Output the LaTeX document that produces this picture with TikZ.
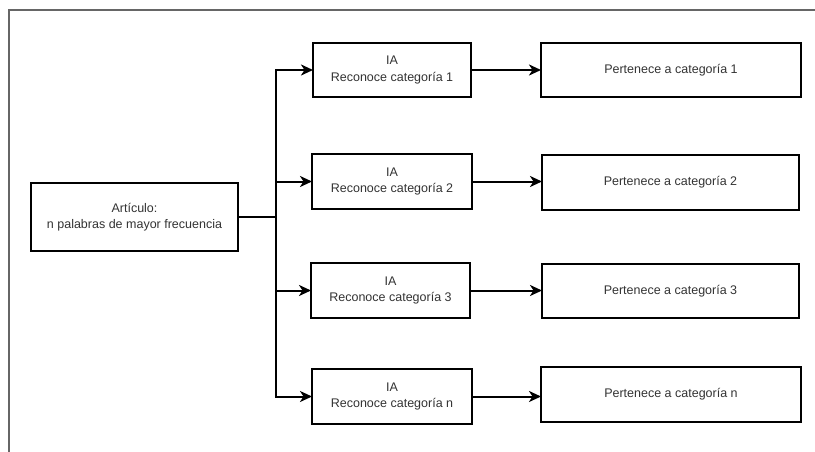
\documentclass[tikz,border=0pt]{standalone}
\usepackage{fontspec}
\setmainfont{Liberation Sans}
\usetikzlibrary{arrows.meta}
\tikzset{
  box/.style={draw=black, line width=2pt, fill=white, inner sep=0pt, outer sep=0pt,
    align=center, text=black!80, font=\fontsize{12.5}{16.5}\selectfont},
  conn/.style={line width=2pt, draw=black, -{Stealth[length=12pt,width=11pt,inset=3.5pt]}},
  plain/.style={line width=2pt, draw=black},
  frame/.style={line width=2pt, draw=black!60}
}
\begin{document}
\begin{tikzpicture}[x=1pt,y=-1pt]
\useasboundingbox (0,0) rectangle (815,452);
\draw[frame] (8.5,452) -- (8.5,10) -- (815,10);

\node[box, minimum width=207pt, minimum height=68pt] (art) at (134.5,217) {Artículo:\\n palabras de mayor frecuencia};

\node[box, minimum width=158pt, minimum height=54pt] (ia1) at (392,70) {IA\\Reconoce categoría 1};
\node[box, minimum width=160pt, minimum height=55pt] (ia2) at (392,181.5) {IA\\Reconoce categoría 2};
\node[box, minimum width=159pt, minimum height=55pt] (ia3) at (390.5,290.5) {IA\\Reconoce categoría 3};
\node[box, minimum width=160pt, minimum height=55pt] (ian) at (392,396.5) {IA\\Reconoce categoría n};

\node[box, minimum width=260pt, minimum height=54pt] (p1) at (671,70) {Pertenece a categoría 1};
\node[box, minimum width=257pt, minimum height=55pt] (p2) at (670.5,182.5) {Pertenece a categoría 2};
\node[box, minimum width=257pt, minimum height=54pt] (p3) at (670.5,291) {Pertenece a categoría 3};
\node[box, minimum width=260pt, minimum height=55pt] (pn) at (671,394.5) {Pertenece a categoría n};

\coordinate (j) at (276,217);
\draw[plain] (art.east) -- (j);
\draw[conn] (j) |- (ia1.west);
\draw[conn] (j) |- (ia2.west);
\draw[conn] (j) |- (ia3.west);
\draw[conn] (j) |- (ian.west);

\draw[conn] (ia1.east) -- (ia1.east -| p1.west);
\draw[conn] (ia2.east) -- (ia2.east -| p2.west);
\draw[conn] (ia3.east) -- (ia3.east -| p3.west);
\draw[conn] (ian.east) -- (ian.east -| pn.west);
\end{tikzpicture}
\end{document}
